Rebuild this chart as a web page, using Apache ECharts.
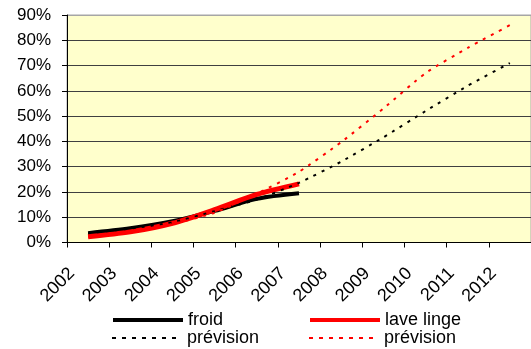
<!DOCTYPE html>
<html>
<head>
<meta charset="utf-8">
<script src="https://cdn.jsdelivr.net/npm/echarts@6/dist/echarts.min.js"></script>
<style>
html,body{margin:0;padding:0;background:#fff;}
#c{width:531px;height:349px;}
</style>
</head>
<body>
<div id="c"></div>
<script>
var years = ['2002','2003','2004','2005','2006','2007','2008','2009','2010','2011','2012'];
var froid = [3.7, 5.6, 8.4, 12.5, 17.3, 19.5, null, null, null, null, null];
var laveLinge = [2.3, 4.2, 7.6, 13.0, 19.0, 23.2, null, null, null, null, null];
var previsionFroid = [3.7, 5.5, 8.0, 12.4, 17.0, 23.6, 32.0, 41.6, 52.0, 62.0, 71.0];
var previsionLave = [2.3, 4.2, 7.3, 11.8, 19.3, 28.0, 39.7, 53.0, 67.0, 77.0, 86.0];
var yTicks = [0, 10, 20, 30, 40, 50, 60, 70, 80, 90];
var legendNames = ['froid', 'prévision', 'lave linge', 'prévision '];

var chart = echarts.init(document.getElementById('c'), null, {renderer: 'canvas'});
var font = '"Liberation Sans", Arial, sans-serif';
var splitColors = yTicks.map(function (v, i) { return i === yTicks.length - 1 ? '#A6A6A6' : '#404040'; });

function oneLegend(name, left, top, color, width, dash) {
  return {
    show: true, orient: 'horizontal', left: left, top: top,
    itemWidth: 70, itemHeight: 18, padding: 0,
    data: [name],
    itemStyle: {opacity: 0},
    lineStyle: {color: color, width: width, type: dash},
    textStyle: {fontFamily: font, fontSize: 18, color: '#000'}
  };
}

chart.setOption({
  animation: false,
  backgroundColor: '#ffffff',
  grid: {left: 67, top: 15, width: 469, height: 227.5, show: true, backgroundColor: '#FFFFCC', borderColor: '#A6A6A6', borderWidth: 1},
  xAxis: {
    type: 'category',
    data: years,
    boundaryGap: true,
    axisLine: {lineStyle: {color: '#000', width: 1}},
    axisTick: {show: true, length: 5, lineStyle: {color: '#000'}},
    axisLabel: {rotate: 45, margin: 12, padding: [0, 23, 0, 0], color: '#000', fontFamily: font, fontSize: 18, interval: 0},
    splitLine: {show: false}
  },
  yAxis: {
    type: 'value',
    min: yTicks[0],
    max: yTicks[yTicks.length - 1],
    interval: 10,
    axisLine: {show: true, lineStyle: {color: '#000', width: 1}},
    axisTick: {show: true, length: 5, lineStyle: {color: '#000'}},
    axisLabel: {formatter: '{value}%', margin: 16, color: '#000', fontFamily: font, fontSize: 17},
    splitLine: {show: true, lineStyle: {color: splitColors, width: 1}}
  },
  legend: [
    oneLegend(legendNames[0], 111, 311, '#000', 4, 'solid'),
    oneLegend(legendNames[1], 111, 329, '#000', 2, [4, 6]),
    oneLegend(legendNames[2], 308, 311, '#FF0000', 4, 'solid'),
    oneLegend(legendNames[3], 308, 329, '#FF0000', 2, [4, 6])
  ],
  series: [
    {name: legendNames[0], type: 'line', data: froid, symbol: 'none', smooth: 0.3,
      lineStyle: {color: '#000', width: 4}, itemStyle: {color: '#000'}},
    {name: legendNames[2], type: 'line', data: laveLinge, symbol: 'none', smooth: 0.3,
      lineStyle: {color: '#FF0000', width: 5}, itemStyle: {color: '#FF0000'}},
    {name: legendNames[1], type: 'line', data: previsionFroid, symbol: 'none', smooth: 0.2,
      lineStyle: {color: '#000', width: 2, type: [3, 6]}, itemStyle: {color: '#000'}},
    {name: legendNames[3], type: 'line', data: previsionLave, symbol: 'none', smooth: 0.2,
      lineStyle: {color: '#FF0000', width: 2, type: [3, 6]}, itemStyle: {color: '#FF0000'}}
  ]
});
</script>
</body>
</html>
